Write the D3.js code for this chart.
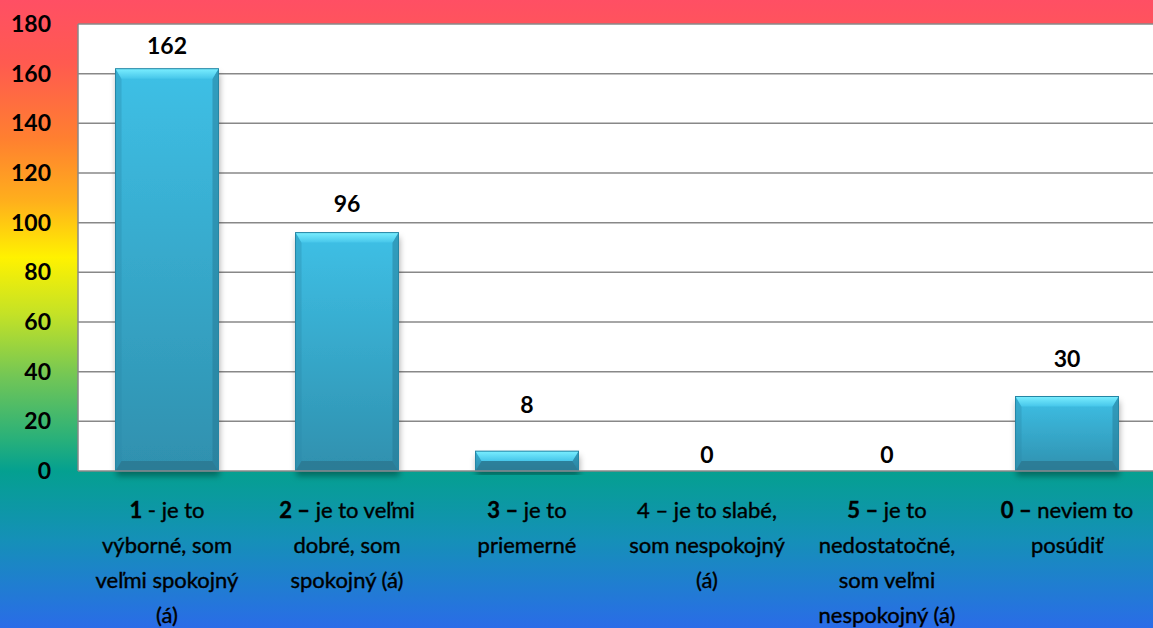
<!DOCTYPE html>
<html><head><meta charset="utf-8">
<script src="https://cdn.jsdelivr.net/npm/d3@7"></script>
<style>html,body{margin:0;padding:0;overflow:hidden;}svg{display:block;}</style>
</head><body>
<svg id="chart" width="1153" height="628"></svg>
<script>
// ---- data ----
const categories = [
  "1 - je to výborné, som veľmi spokojný (á)",
  "2 – je to veľmi dobré, som spokojný (á)",
  "3 – je to priemerné",
  "4 – je to slabé, som nespokojný (á)",
  "5 – je to nedostatočné, som veľmi nespokojný (á)",
  "0 – neviem to posúdiť"
];
const values = [162, 96, 8, 0, 0, 30];
const yTicks = [0, 20, 40, 60, 80, 100, 120, 140, 160, 180];
const labelLines = [
  ["1 - je to", "výborné, som", "veľmi spokojný", "(á)"],
  ["2 – je to veľmi", "dobré, som", "spokojný (á)"],
  ["3 – je to", "priemerné"],
  ["4 – je to slabé,", "som nespokojný", "(á)"],
  ["5 – je to", "nedostatočné,", "som veľmi", "nespokojný (á)"],
  ["0 – neviem to", "posúdiť"]
];
const boldPrefix = ["1", "2 –", "3 –", "", "5 –", "0 –"];
const labelGap = [15, 21, 38, 8, 8, 30];

// ---- layout ----
const W = 1153, H = 628;
const plot = {left: 78, top: 24, right: 1153, bottom: 471};
const svg = d3.select("#chart");
const defs = svg.append("defs");

// background gradient
const bg = defs.append("linearGradient").attr("id","bg").attr("x1",0).attr("y1",0).attr("x2",0).attr("y2",1);
[[0,"#ff4f64"],[0.1,"#ff5a50"],[0.22,"#ff7f30"],[0.32,"#ffaf1c"],[0.41,"#fff200"],
 [0.5,"#c4e226"],[0.6,"#72c656"],[0.7,"#28b07a"],[0.75,"#04a090"],[0.86,"#1590b8"],[1,"#2a6ce8"]]
 .forEach(([o,c]) => bg.append("stop").attr("offset",o).attr("stop-color",c));
svg.append("rect").attr("width",W).attr("height",H).attr("fill","url(#bg)");

// bar gradients
const bm = defs.append("linearGradient").attr("id","barMain").attr("x1",0).attr("y1",0).attr("x2",0).attr("y2",1);
bm.append("stop").attr("offset",0).attr("stop-color","#3ec0e6");
bm.append("stop").attr("offset",1).attr("stop-color","#2f90ae");
const bt = defs.append("linearGradient").attr("id","barTop").attr("x1",0).attr("y1",0).attr("x2",0).attr("y2",1);
bt.append("stop").attr("offset",0).attr("stop-color","#7aeeff");
bt.append("stop").attr("offset",1).attr("stop-color","#46c6ea");
const f = defs.append("filter").attr("id","shadow").attr("x","-20%").attr("y","-20%").attr("width","140%").attr("height","140%");
f.append("feDropShadow").attr("dx",1).attr("dy",5).attr("stdDeviation",3).attr("flood-color","#000").attr("flood-opacity",0.35);

const x = d3.scaleBand().domain(categories).range([77, 1157]).paddingInner(0.428).paddingOuter(0.214);
const y = d3.scaleLinear().domain([0, 180]).range([plot.bottom, plot.top]);

// plot area
svg.append("rect").attr("x",plot.left).attr("y",plot.top)
  .attr("width",plot.right-plot.left).attr("height",plot.bottom-plot.top).attr("fill","#fff");

// gridlines
svg.append("g").selectAll("line").data(yTicks.filter(t=>t>0)).join("line")
  .attr("x1",plot.left).attr("x2",plot.right)
  .attr("y1",d=>y(d)).attr("y2",d=>y(d))
  .attr("stroke","#888").attr("stroke-width",1.5);

// y axis labels
const yAxis = svg.append("g").attr("transform",`translate(${plot.left},0)`)
  .call(d3.axisLeft(y).tickValues(yTicks).tickSize(0).tickPadding(27));
yAxis.select(".domain").remove();
yAxis.selectAll("text").attr("font-family","Lato, 'Open Sans', sans-serif")
  .attr("font-size",23).attr("font-weight","bold").attr("fill","#000");

// bars
const bars = svg.append("g").selectAll("g").data(values.map((v,i)=>({v,c:categories[i],i})).filter(d=>d.v>0)).join("g");
bars.each(function(d){
  const g = d3.select(this);
  const x0 = x(d.c), w = x.bandwidth(), y0 = y(d.v), y1 = y(0), h = y1 - y0;
  const b = Math.min(10, h/2);
  const s = Math.min(6, h/2);
  g.append("rect").attr("x",x0).attr("y",y0).attr("width",w).attr("height",h)
    .attr("fill","url(#barMain)").attr("filter","url(#shadow)");
  // left bevel
  g.append("path").attr("d",`M${x0},${y0}L${x0+s},${y0+b}L${x0+s},${y1-b}L${x0},${y1}Z`).attr("fill","#2c8aa8").attr("opacity",0.35);
  // right bevel
  g.append("path").attr("d",`M${x0+w},${y0}L${x0+w-s},${y0+b}L${x0+w-s},${y1-b}L${x0+w},${y1}Z`).attr("fill","#24748d").attr("opacity",0.45);
  // bottom bevel
  g.append("path").attr("d",`M${x0},${y1}L${x0+s},${y1-b}L${x0+w-s},${y1-b}L${x0+w},${y1}Z`).attr("fill","#2a7790").attr("opacity",0.8);
  // top bevel
  g.append("path").attr("d",`M${x0},${y0}L${x0+w},${y0}L${x0+w-s},${y0+b}L${x0+s},${y0+b}Z`).attr("fill","url(#barTop)");
  g.append("rect").attr("x",x0).attr("y",y0).attr("width",w).attr("height",h)
    .attr("fill","none").attr("stroke","#2585a4").attr("stroke-width",1);
});

// axis lines
svg.append("line").attr("x1",plot.left).attr("x2",plot.left).attr("y1",plot.top).attr("y2",plot.bottom)
  .attr("stroke","#888").attr("stroke-width",1.5);
svg.append("line").attr("x1",plot.left).attr("x2",plot.right).attr("y1",plot.bottom).attr("y2",plot.bottom)
  .attr("stroke","#888").attr("stroke-width",1.5);

// value labels
svg.append("g").selectAll("text").data(values).join("text")
  .attr("x",(d,i)=>x(categories[i]) + x.bandwidth()/2)
  .attr("y",(d,i)=>y(d) - labelGap[i])
  .attr("text-anchor","middle")
  .attr("font-family","Lato, 'Open Sans', sans-serif").attr("font-size",23).attr("font-weight","bold")
  .attr("fill","#000").text(d=>d);

// category labels
const cl = svg.append("g").selectAll("text").data(categories).join("text")
  .attr("text-anchor","middle")
  .attr("font-family","Lato, 'Open Sans', sans-serif").attr("font-size",22).attr("fill","#000")
  .attr("stroke","#000").attr("stroke-width",0.4);
cl.each(function(c,i){
  const t = d3.select(this);
  const cx = x(c) + x.bandwidth()/2;
  labelLines[i].forEach((line,j)=>{
    const ts = t.append("tspan").attr("x",cx).attr("y",518 + j*35);
    if (j===0 && boldPrefix[i] && line.startsWith(boldPrefix[i])) {
      ts.append("tspan").attr("font-weight","bold").text(boldPrefix[i]);
      ts.append("tspan").text(line.slice(boldPrefix[i].length));
    } else ts.text(line);
  });
});
</script>
</body></html>
